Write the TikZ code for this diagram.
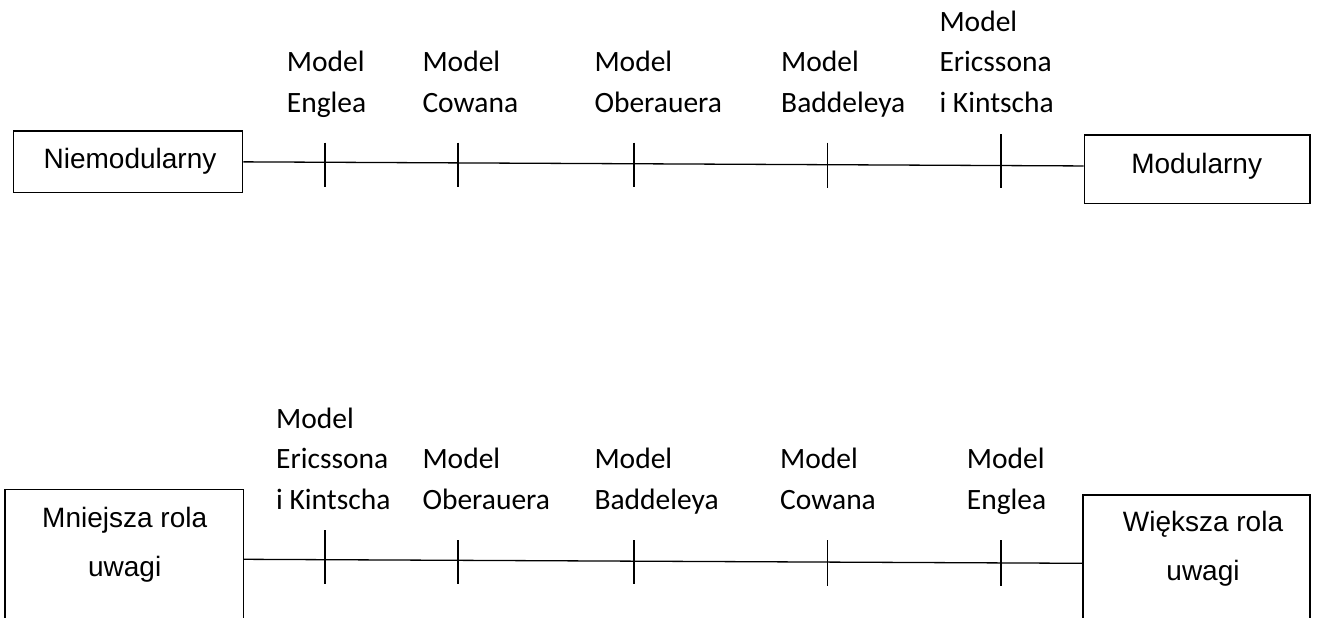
\documentclass[tikz,border=0pt]{standalone}
\usepackage{fontspec}
\newfontfamily\carlito{Carlito}
\newfontfamily\arialf{Liberation Sans}
\begin{document}
\begin{tikzpicture}[x=1pt,y=-1pt,
  box/.style={draw=black,line width=1.3pt,inner sep=0pt,fill=white},
  boxtext/.style={inner sep=0pt,text depth=0pt,align=center,
    font={\fontsize{28}{49}\selectfont\arialf}},
  lab/.style={inner sep=0pt,text depth=0pt,align=left,anchor=south west,
    font={\fontsize{29.5}{40.5}\selectfont\carlito}},
  axis/.style={line width=1.3pt},
  tick/.style={line width=1.3pt}]
\useasboundingbox (0,0) rectangle (1328,618);
\fill[white] (0,0) rectangle (1328,618);
\clip (0,0) rectangle (1328,618);

% ---------- top row ----------
\node[box,minimum width=229.4pt,minimum height=61.7pt] (tl) at (128,161.85) {};
\node[box,minimum width=225.7pt,minimum height=68.3pt] (tr) at (1197.15,169.15) {};
\node[boxtext,anchor=base] (tlt) at (130,168.3) {Niemodularny};
\node[boxtext,anchor=base] (trt) at (1196.7,173.3) {Modularny};
\draw[axis] (tl.east) -- ([yshift=3.2pt]tr.west);

\draw[tick] (325,142.7) -- (325,186.7);
\draw[tick] (458,142.7) -- (458,186.7);
\draw[tick] (634,142.7) -- (634,186.7);
\draw[tick] (827.7,142.7) -- (827.7,188.3);
\draw[tick] (1001,134.3) -- (1001,188.3);

\node[lab] (t1) at (286.7,112.7) {Model\\Englea};
\node[lab] (t2) at (422.3,112.7) {Model\\Cowana};
\node[lab] (t3) at (594.3,112.7) {Model\\Oberauera};
\node[lab] (t4) at (781,112.7) {Model\\Baddeleya};
\node[lab] (t5) at (939.3,112.7) {Model\\Ericssona\\i Kintscha};

% ---------- bottom row ----------
\node[box,minimum width=238.3pt,minimum height=160pt] (bl) at (124.15,569.3) {};
\node[box,minimum width=227pt,minimum height=160pt] (br) at (1196.5,575) {};
\node[boxtext,anchor=south] (blt) at (124.7,576.7) {Mniejsza rola\\uwagi};
\node[boxtext,anchor=south] (brt) at (1203,581) {Większa rola\\uwagi};
\draw[axis] ([yshift=10pt]bl.east) -- ([yshift=11.7pt]br.west);

\draw[tick] (325,530) -- (325,584.3);
\draw[tick] (458,540) -- (458,584.3);
\draw[tick] (634,540) -- (634,584.3);
\draw[tick] (827.7,540) -- (827.7,586);
\draw[tick] (1001,540) -- (1001,586);

\node[lab] (b1) at (276,509.3) {Model\\Ericssona\\i Kintscha};
\node[lab] (b2) at (422.3,509.3) {Model\\Oberauera};
\node[lab] (b3) at (594.3,509.3) {Model\\Baddeleya};
\node[lab] (b4) at (780,509.3) {Model\\Cowana};
\node[lab] (b5) at (966.7,509.3) {Model\\Englea};
\end{tikzpicture}
\end{document}
